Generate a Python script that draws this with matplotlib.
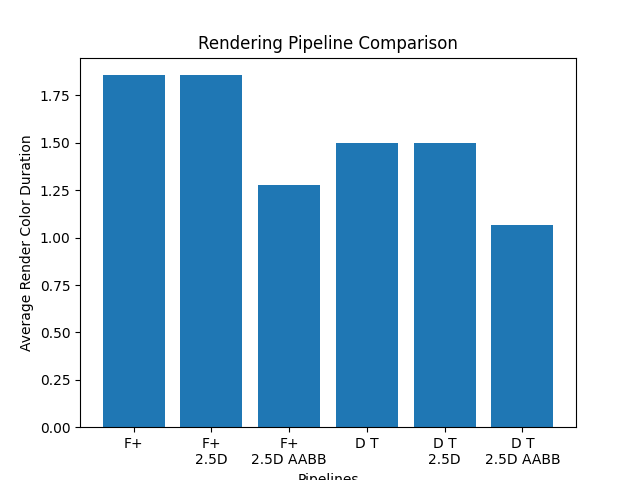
import matplotlib
matplotlib.use("Agg")
import matplotlib.pyplot as plt

pipelines = ["F+", "F+\n2.5D", "F+\n2.5D AABB", "D T", "D T\n2.5D", "D T\n2.5D AABB"]
durations = [1.857, 1.857, 1.277, 1.499, 1.499, 1.066]

fig, ax = plt.subplots(figsize=(6.4, 4.8), dpi=100)
ax.bar(pipelines, durations)
ax.set_title("Rendering Pipeline Comparison")
ax.set_xlabel("Pipelines")
ax.set_ylabel("Average Render Color Duration")
fig.savefig("out.png")
